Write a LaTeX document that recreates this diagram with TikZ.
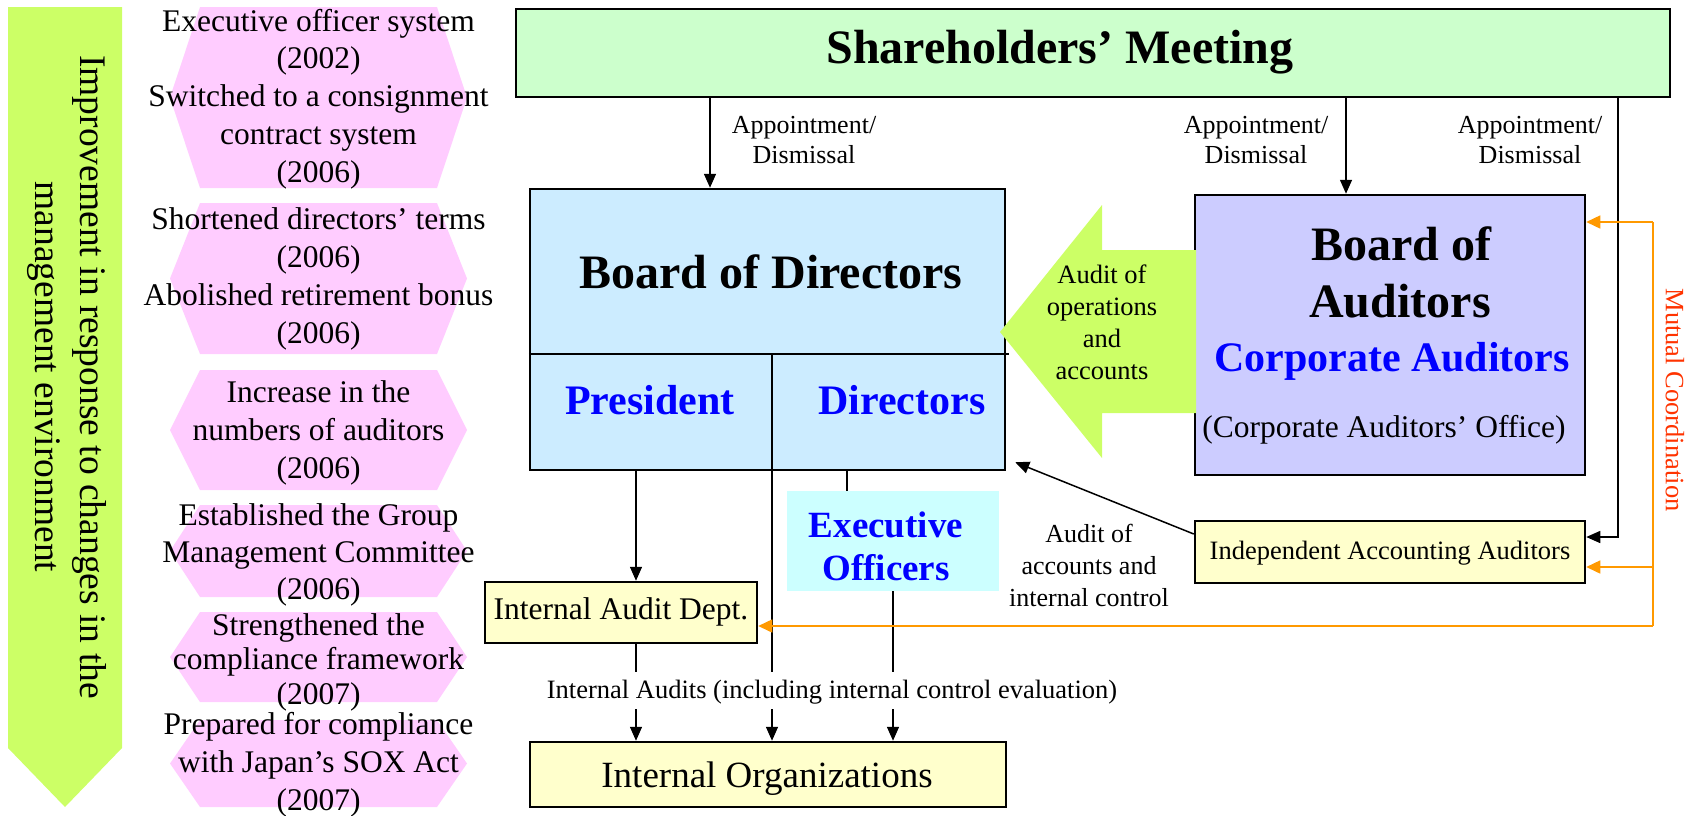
\documentclass[tikz,border=0pt]{standalone}
\usepackage{fontspec}
\setmainfont{Liberation Serif}
\usetikzlibrary{arrows.meta}
\definecolor{hexpink}{HTML}{FFCCFF}
\definecolor{arrgreen}{HTML}{CCFF66}
\definecolor{smgreen}{HTML}{CCFFCC}
\definecolor{bodblue}{HTML}{CCECFF}
\definecolor{boalav}{HTML}{CCCCFF}
\definecolor{eocyan}{HTML}{CCFFFF}
\definecolor{boxyel}{HTML}{FFFFCC}
\definecolor{txtblue}{HTML}{0000FF}
\definecolor{ornge}{HTML}{FF9900}
\definecolor{orred}{HTML}{FF3300}
\newcommand\fsz[2]{\fontsize{#1}{#2}\selectfont}
\newcommand\HexShape[2]{\fill[hexpink] (200,#1) -- (437,#1) -- (467,{(#1+#2)/2}) -- (437,#2) -- (200,#2) -- (170,{(#1+#2)/2}) -- cycle;}
\begin{document}
\begin{tikzpicture}[x=1pt,y=-1pt,
  txt/.style={inner sep=0pt, align=center},
  hextxt/.style={txt, font=\fsz{31.5}{37.8}},
  small/.style={txt, font=\fsz{26}{30}},
  box/.style={draw=black, line width=2.5pt, inner sep=0pt},
  conn/.style={line width=1.5pt, draw=black},
  arr/.style={conn, -{Triangle[length=14pt,width=12pt]}},
  orln/.style={line width=1.5pt, draw=ornge},
  orarr/.style={orln, -{Triangle[length=14pt,width=13pt]}},
  bigbold/.style={txt, font=\fsz{48}{57}\bfseries},
  bluebold/.style={txt, text=txtblue, font=\fsz{42}{50}\bfseries}
]
\useasboundingbox (0,0) rectangle (1692,815);

% left improvement arrow
\fill[arrgreen] (8,7) -- (122,7) -- (122,748) -- (65,807) -- (8,748) -- cycle;
\node[txt, rotate=-90, font=\fsz{37.5}{45}] (impr) at (67,377)
  {Improvement in response to changes in the\\management environment};

% hexagons
\HexShape{7}{188}
\HexShape{203}{354}
\HexShape{370}{490}
\HexShape{505}{597}
\HexShape{612}{702}
\HexShape{720}{807}
\node[hextxt] (h1) at (318.5,99) {Executive officer system\\(2002)\\Switched to a consignment\\contract system\\(2006)};
\node[hextxt] (h2) at (318.5,279) {Shortened directors’ terms\\(2006)\\Abolished retirement bonus\\(2006)};
\node[hextxt] (h3) at (318.5,433) {Increase in the\\numbers of auditors\\(2006)};
\node[hextxt, font=\fsz{31.5}{37}] (h4) at (318.5,555) {Established the Group\\Management Committee\\(2006)};
\node[hextxt, font=\fsz{31.5}{34.5}] (h5) at (318.5,662) {Strengthened the\\compliance framework\\(2007)};
\node[hextxt] (h6) at (318.5,765) {Prepared for compliance\\with Japan’s SOX Act\\(2007)};

% boxes
\node[box, fill=smgreen, minimum width=1154pt, minimum height=88pt] (sm) at (1093,53) {};
\node[bigbold] (smt) at (1060,52) {Shareholders’ Meeting};

\node[box, fill=bodblue, minimum width=475pt, minimum height=281pt] (bod) at (767.5,329.5) {};
\node[box, fill=boalav, minimum width=390pt, minimum height=280pt] (boa) at (1390,335) {};
\node[fill=eocyan, inner sep=0pt, minimum width=212pt, minimum height=100pt] (eo) at (893,541) {};
\node[box, fill=boxyel, minimum width=272pt, minimum height=61pt] (iad) at (621,612.5) {};
\node[box, fill=boxyel, minimum width=476pt, minimum height=65pt] (io) at (768,774.5) {};
\node[box, fill=boxyel, minimum width=390pt, minimum height=62pt] (iaa) at (1390,552) {};

% helper coordinates
\coordinate (cA) at (710,0);
\coordinate (cB) at (1346,0);
\coordinate (cC) at (1618,0);
\coordinate (cIAD) at (636,0);
\coordinate (cDiv) at (772,0);
\coordinate (cEO1) at (847,0);
\coordinate (cEO2) at (893,0);
\coordinate (divY) at (0,354);
\coordinate (gapTop) at (0,672);
\coordinate (gapBot) at (0,709);
\coordinate (iaaY) at (0,537);
\coordinate (or1) at (1653,222);
\coordinate (or2) at (1653,567);
\coordinate (or3) at (1653,626);

% board of directors dividers
\draw[line width=2.5pt] (bod.west |- divY) -- ([xshift=3pt]bod.east |- divY);
\draw[conn] (cDiv |- divY) -- (cDiv |- gapTop);

% audit of operations arrow
\fill[arrgreen] (1196,250) -- (1102,250) -- (1102,205) -- (1000,332) -- (1102,458) -- (1102,413) -- (1196,413) -- cycle;
\node[txt, font=\fsz{26.5}{32}] (aop) at (1102,322) {Audit of\\operations\\and\\accounts};

% texts in boxes
\node[bigbold] (bodt) at (771,272) {Board of Directors};
\node[bluebold] (pres) at (650,400) {President};
\node[bluebold] (dirs) at (902,400) {Directors};
\node[bigbold] (boat1) at (1401,244) {Board of};
\node[bigbold] (boat2) at (1400,301) {Auditors};
\node[bluebold] (cat) at (1392,361) {Corporate Auditors};
\node[txt, font=\fsz{31.5}{37.8}] (cao) at (1384,430) {(Corporate Auditors’ Office)};
\node[txt, text=txtblue, font=\fsz{37}{43}\bfseries] (eot) at (886,546) {Executive\\Officers};
\node[txt, font=\fsz{31.5}{37.8}] (iadt) at (621,612) {Internal Audit Dept.};
\node[txt, font=\fsz{37}{44}] (iot) at (767,779) {Internal Organizations};
\node[txt, font=\fsz{26.5}{31}] (iaat) at (1390,553) {Independent Accounting Auditors};

% labels
\node[small] (lab1) at (804,140) {Appointment/\\Dismissal};
\node[small] (lab2) at (1256,140) {Appointment/\\Dismissal};
\node[small] (lab3) at (1530,140) {Appointment/\\Dismissal};
\node[txt, font=\fsz{26}{32}] (aac) at (1089,565) {Audit of\\accounts and\\internal control};
\node[txt, font=\fsz{26.5}{31}] (ial) at (832,692) {Internal Audits (including internal control evaluation)};
\node[txt, rotate=-90, text=orred, font=\fsz{26.5}{31}] (mc) at (1675,400) {Mutual Coordination};

% connectors
\draw[arr] (sm.south -| cA) -- (bod.north -| cA);
\draw[arr] (sm.south -| cB) -- (boa.north -| cB);
\draw[arr] (sm.south -| cC) |- (iaa.east |- iaaY);
\draw[arr] ([yshift=18pt]iaa.west) -- ([xshift=9pt,yshift=9pt]bod.south east);
\draw[arr] (bod.south -| cIAD) -- (iad.north -| cIAD);
\draw[conn] (bod.south -| cEO1) -- (eo.north -| cEO1);
\draw[conn] (iad.south -| cIAD) -- (cIAD |- gapTop);
\draw[arr] (cIAD |- gapBot) -- (io.north -| cIAD);
\draw[arr] (cDiv |- gapBot) -- (io.north -| cDiv);
\draw[conn] (eo.south -| cEO2) -- (cEO2 |- gapTop);
\draw[arr] (cEO2 |- gapBot) -- (io.north -| cEO2);

% mutual coordination
\draw[orln] (or1) -- (or3);
\draw[orarr] (or3) -- (iad.east |- or3);
\draw[orarr] (or1) -- (boa.east |- or1);
\draw[orarr] (or2) -- (iaa.east |- or2);
\end{tikzpicture}
\end{document}
